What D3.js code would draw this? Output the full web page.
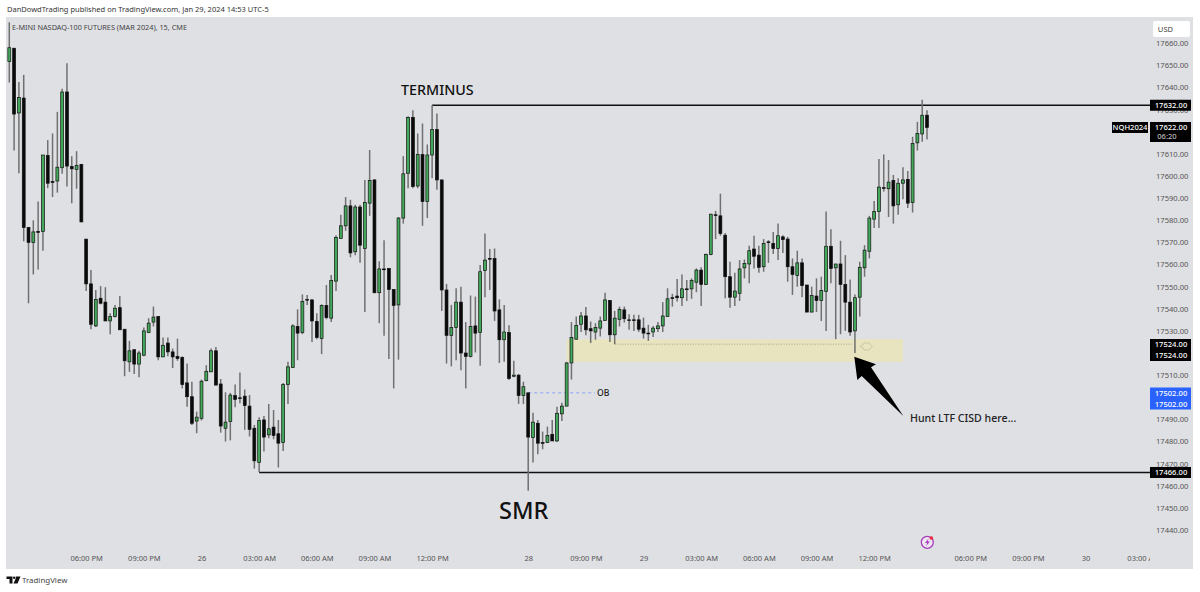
<!DOCTYPE html>
<html>
<head>
<meta charset="utf-8">
<script src="https://cdn.jsdelivr.net/npm/d3@7"></script>
<style>
  html, body { margin: 0; padding: 0; background: #fff; }
  text { font-family: "Noto Sans", sans-serif; }
</style>
</head>
<body>
<div id="chart"></div>
<script>
// 15 min bars, one value per bar
const opens = [
  17651.75,17657.75,17628.5,17635.25,17576.75,17570,17575,17575,17609.25,17597.5,17597.75,17603.75,
  17638,17604.25,17603,17605.25,17571.5,17551.25,17532.25,17544.75,17543,17534.5,17536.5,17540.5,
  17530.75,17516,17521.5,17515,17519,17529.25,17534,17536.5,17518.25,17524.5,17520.5,17518.5,
  17518,17506.5,17500.25,17489.25,17490.5,17507.5,17511.5,17521,17506,17486,17489,17500.75,
  17499.75,17500.5,17496,17486,17470.5,17489.75,17483,17486.5,17483.5,17479.5,17505.75,17513.5,
  17532,17529.25,17544.25,17544,17534.25,17526.5,17541.5,17535.75,17552.5,17571.75,17577.5,17586.5,
  17565.75,17586,17567.25,17587.75,17598.25,17547.25,17558,17558.25,17548.75,17541.75,17581,17601.25,
  17626.5,17595.5,17609.75,17588.5,17609.5,17621,17598.25,17548.5,17528,17531.5,17543,17520,
  17518.5,17532.25,17529.25,17557.25,17562.75,17562.75,17539.5,17526,17529.25,17509.5,17510,17500.75,
  17502,17481.75,17488.25,17479.5,17479.5,17483.25,17480.25,17492.5,17496,17515.5,17526.25,17533,
  17536.75,17531,17529.5,17531.25,17534.75,17543.75,17528.25,17535.25,17539.5,17535,17535,17535,
  17531.25,17529,17529.5,17531,17532.25,17536.5,17545,17545.75,17545,17549,17549,17552,
  17557.5,17551,17564.5,17582.5,17582,17573.25,17554.5,17545.25,17547,17558.5,17560.25,17567,
  17564.25,17559,17570.25,17569.5,17567.25,17572.5,17571.5,17559,17555,17560.75,17550.75,17538.5,
  17545.75,17543.75,17547.75,17568.25,17558.5,17560.25,17551,17543,17530,17545.25,17558.5,17566,
  17580.5,17584,17594.75,17594.25,17598,17587,17596.75,17598.5,17588,17615,17619,17627.5
];
const highs = [
  17669.5,17658,17642.5,17645.75,17577,17580,17588.5,17609.5,17616.25,17619.25,17629,17639.5,
  17651,17609,17611.25,17605.5,17571.5,17557.5,17548.5,17550.25,17549.75,17538,17541.75,17545.75,
  17530.75,17525.5,17521.5,17521,17531.5,17535.75,17541,17536.5,17527,17527,17522,17526.5,
  17518.5,17515.25,17507,17493.5,17508,17514.5,17522,17522.75,17508.25,17502.25,17502,17505.75,
  17511.25,17503.5,17501,17487.5,17491,17491.5,17497,17494.25,17489.75,17506.5,17516,17533,
  17539.75,17546.5,17546.25,17544.25,17538,17542,17550.75,17555.25,17573.25,17582.5,17590.5,17589.25,
  17587,17587,17598.25,17611.75,17598.5,17561.5,17571,17558.25,17548.75,17581.5,17609,17627,
  17629.75,17619.25,17623.75,17614.25,17632,17628.25,17598.25,17551.25,17541.75,17549.25,17550,17534,
  17546,17545.5,17559.75,17574,17567,17567.25,17544.25,17541.75,17532.5,17516.5,17510.5,17507,
  17502,17493,17489.75,17484.5,17486.75,17489.75,17495.75,17497.5,17516,17534,17536.5,17538.5,
  17540.75,17534.25,17533.5,17536.5,17547.25,17544,17539,17541,17541,17537.5,17537.25,17537.25,
  17536,17532.75,17532.25,17534,17543,17549.25,17546.75,17553.5,17555.5,17553,17553.75,17558.25,
  17558.75,17565,17583,17584.25,17592,17574.25,17561.25,17556.25,17562,17562.25,17568.5,17573,
  17568.5,17571.5,17571,17574.75,17578.5,17573.25,17572.5,17562.75,17566.25,17562.75,17550.75,17550,
  17553.75,17554.5,17584,17576,17560.25,17570.75,17564.25,17553.25,17546.5,17561.25,17568.75,17582,
  17588.75,17607.75,17609.75,17607.25,17600.5,17599,17604,17602.25,17617.75,17624.5,17634.5,17629.75
];
const lows = [
  17642.25,17611.5,17601.25,17570.5,17542.5,17555.5,17557.75,17566.25,17594.5,17590.5,17592.5,17601,
  17595.25,17587.75,17594.25,17579.25,17548,17530.75,17531.75,17542,17534.5,17528.5,17536,17530.5,
  17509.5,17511.5,17510.5,17509,17518.5,17529,17532,17516.75,17518.25,17518.5,17513.25,17516.5,
  17504,17495.75,17487.5,17483.75,17489.5,17507.25,17511.5,17505.5,17484,17480,17480.5,17495.5,
  17497.25,17485.25,17482.25,17467.75,17466.25,17475.5,17481.5,17481,17468.25,17475.75,17497,17513.25,
  17516.75,17528.5,17541.75,17525,17526.25,17519.5,17535.25,17534,17548,17571.75,17575.25,17563.25,
  17564.25,17560.75,17538.5,17582,17547,17533.5,17527.75,17517.25,17504,17517,17578.5,17594.5,
  17594.5,17594.5,17577.5,17581,17599,17593.75,17539,17515.25,17514,17516.75,17512.25,17504,
  17518,17520.25,17514.25,17545.25,17548.5,17534.5,17515.5,17516,17507.75,17509,17497,17497,
  17457.75,17470.5,17474.25,17476.5,17479.5,17480.25,17479.75,17489.25,17496,17508,17526,17529.5,
  17528,17524.5,17526,17527.5,17534.75,17525,17524,17532,17533.75,17530.5,17530,17529.5,
  17526.5,17525.5,17527.25,17529.5,17529.5,17536.25,17541,17543.25,17541.25,17543.5,17544.5,17547.5,
  17541.25,17550.75,17564.25,17571.5,17573,17544.75,17540.5,17541.25,17543.5,17553.75,17551.5,17558.25,
  17556.25,17556.75,17560.75,17564.75,17562,17565.25,17552.25,17546.25,17550,17545.25,17538.5,17538.5,
  17538.5,17534.5,17530,17551.5,17526.25,17528.5,17530,17527.75,17520,17536.5,17554.5,17562.75,
  17576.5,17576.5,17593,17581.5,17578.5,17582.5,17589.5,17585.5,17583.5,17611.5,17615.5,17616.5
];
const closes = [
  17658,17628,17635.5,17576.75,17570,17574.75,17574.5,17609.5,17596.75,17597.25,17604,17638,
  17604.5,17603.25,17604.75,17579.25,17551.25,17533,17544.25,17542.5,17534.5,17536.5,17540.25,17530.5,
  17516.5,17521,17515,17520,17530,17533.5,17536.25,17518.25,17523.5,17520.5,17518.25,17517.5,
  17505.75,17500.25,17488.25,17491,17507.25,17511.75,17521,17505.5,17487,17488.75,17501,17499,
  17499.5,17496.25,17485.5,17471.25,17489.5,17482,17485.75,17482.75,17479.25,17505.75,17513.75,17532.25,
  17529,17543.25,17544,17534.5,17527,17541.5,17536,17552.75,17572.25,17577.5,17586.5,17565.25,
  17586,17568.75,17588,17598,17547.25,17558,17557.75,17548.75,17541.5,17581,17601,17626.5,
  17595.25,17609.75,17588.5,17609.5,17621,17598.25,17548.5,17528,17531.5,17543,17520,17518.5,
  17532,17529,17556.75,17562,17562.5,17539,17526,17529.5,17508.5,17510,17500.75,17504.75,
  17482,17488.75,17479.25,17479.25,17482.75,17480.25,17492.75,17496,17515.5,17527,17532.5,17536.75,
  17530.5,17530,17531.5,17534.5,17544,17528.25,17535.75,17539.75,17535.5,17534.75,17534.75,17530.75,
  17529,17528.75,17531.25,17532.25,17536.75,17544.5,17544.75,17545,17549,17548.75,17552.75,17557.5,
  17551,17564.5,17582.75,17582.25,17574,17554.5,17545.25,17548,17558,17560.5,17566.25,17563.75,
  17558.75,17569.5,17570,17567.25,17573,17571.25,17559,17555.5,17560.75,17550.5,17538.5,17546,
  17543.75,17548.25,17568.25,17558.25,17560.25,17551,17543,17529.5,17545,17558.75,17566.5,17581,
  17584,17595,17594.5,17597.25,17586.5,17596.75,17598.25,17587.75,17614.75,17619.25,17627.5,17622
];

// 17620, 17520 and 17500 sit completely behind the price boxes
const priceTicks = [17660,17650,17640,17630,17610,17600,17590,17580,17570,17560,17550,17540,17530,17510,17490,17480,17470,17460,17450,17440];
// bar number -> label on the time axis
const timeBars = [16,28,40,52,64,76,88,108,120,132,144,156,168,180,200,212,224,236];
const timeLabels = ["06:00 PM","09:00 PM","26","03:00 AM","06:00 AM","09:00 AM","12:00 PM","28","09:00 PM","29","03:00 AM","06:00 AM","09:00 AM","12:00 PM","06:00 PM","09:00 PM","30","03:00 AM"];

// drawn levels and zones
const terminusLevel = {bar: 88, price: 17632};
const smrLevel = {bar: 52, price: 17466};
const zoneTop = 17526.25, zoneBottom = 17516, zoneLevel = 17524;
const obLevel = 17502;

const width = 1200, height = 592;
const panel = {left: 6, right: 1193, top: 17, bottom: 569};
const axisX = 1150;

const svg = d3.select("#chart").append("svg")
  .attr("width", width)
  .attr("height", height)
  .style("display", "block");

const x = d3.scaleLinear().domain([0, 191]).range([9.3, 927]);
const y = d3.scaleLinear().domain([17660, 17440]).range([43.3, 530]);

//panel background
svg.append("rect")
  .attr("x", panel.left).attr("y", panel.top)
  .attr("width", panel.right - panel.left).attr("height", panel.bottom - panel.top)
  .attr("fill", "#dfe0e4");

//header
svg.append("text").attr("x", 7).attr("y", 12)
  .attr("font-size", 7.5).attr("fill", "#333")
  .text("DanDowdTrading published on TradingView.com, Jan 29, 2024 14:53 UTC-5");
svg.append("text").attr("x", 12).attr("y", 30)
  .attr("font-size", 7.3).attr("fill", "#444")
  .text("E-MINI NASDAQ-100 FUTURES (MAR 2024), 15, CME");

//zone
svg.append("rect")
  .attr("x", x(116)).attr("y", y(zoneTop))
  .attr("width", 903 - x(116)).attr("height", y(zoneBottom) - y(zoneTop))
  .attr("fill", "#e8e4c0");
svg.append("line")
  .attr("x1", x(126)).attr("x2", 852)
  .attr("y1", y(zoneLevel)).attr("y2", y(zoneLevel))
  .attr("stroke", "#77776a").attr("stroke-width", 0.6).attr("stroke-dasharray", "1 1.6");

//little marker at end of the zone
svg.append("path")
  .attr("d", "M860 346.5 L863 345 L864 343 L869 343 L871 345.5 L872.5 346.5 L871 348 L869 350 L864 350 L863 348 Z")
  .attr("fill", "none").attr("stroke", "#c4c09e").attr("stroke-width", 0.8);

//OB line
svg.append("line")
  .attr("x1", x(108)).attr("x2", 595)
  .attr("y1", y(obLevel)).attr("y2", y(obLevel))
  .attr("stroke", "#7f9dfa").attr("stroke-width", 0.9).attr("stroke-dasharray", "3 3");
svg.append("text").attr("x", 597).attr("y", 396)
  .attr("font-size", 8.6).attr("font-weight", 500).attr("fill", "#222").text("OB");

//level lines
svg.append("line")
  .attr("x1", x(terminusLevel.bar)).attr("x2", axisX)
  .attr("y1", y(terminusLevel.price)).attr("y2", y(terminusLevel.price))
  .attr("stroke", "#111").attr("stroke-width", 1.3);
svg.append("line")
  .attr("x1", x(smrLevel.bar)).attr("x2", axisX)
  .attr("y1", y(smrLevel.price)).attr("y2", y(smrLevel.price))
  .attr("stroke", "#111").attr("stroke-width", 1.3);

//candles
const bars = d3.range(opens.length).map(i => ({
  i: i, o: opens[i], h: highs[i], l: lows[i], c: closes[i]
}));

svg.append("g").selectAll("line")
  .data(bars)
  .join("line")
  .attr("x1", d => x(d.i)).attr("x2", d => x(d.i))
  .attr("y1", d => y(d.h)).attr("y2", d => y(d.l))
  .attr("stroke", "#707070")
  .attr("stroke-width", 1.5);

svg.append("g").selectAll("rect")
  .data(bars)
  .join("rect")
  .attr("x", d => x(d.i) - 1.45)
  .attr("width", 2.9)
  .attr("y", d => y(Math.max(d.o, d.c)))
  .attr("height", d => Math.max(0.8, Math.abs(y(d.o) - y(d.c))))
  .attr("fill", d => d.c > d.o ? "#43a85a" : "#0a0a0a")
  .attr("stroke", "#111")
  .attr("stroke-width", 0.7);

//price axis
const yAxis = d3.axisRight(y).tickValues(priceTicks).tickFormat(d3.format(".2f")).tickSize(0).tickPadding(0);
svg.append("g")
  .attr("transform", "translate(1156,0)")
  .call(yAxis)
  .call(g => g.select(".domain").remove())
  .call(g => g.selectAll("text").attr("font-size", 7.6).attr("font-family", "Noto Sans").attr("fill", "#555"));

//time axis, clipped at the price scale
svg.append("clipPath").attr("id", "timeClip")
  .append("rect").attr("x", panel.left).attr("y", 545).attr("width", axisX - panel.left).attr("height", 24);
const xAxis = d3.axisBottom(x).tickValues(timeBars)
  .tickFormat(d => timeLabels[timeBars.indexOf(d)]).tickSize(0).tickPadding(0);
svg.append("g")
  .attr("clip-path", "url(#timeClip)")
  .append("g")
  .attr("transform", "translate(0,556)")
  .call(xAxis)
  .call(g => g.select(".domain").remove())
  .call(g => g.selectAll("text").attr("font-size", 7.5).attr("font-family", "Noto Sans").attr("fill", "#555"));

//USD box
svg.append("rect").attr("x", 1153).attr("y", 21).attr("width", 37).attr("height", 16).attr("rx", 2).attr("fill", "#fff");
svg.append("text").attr("x", 1165.5).attr("y", 32).attr("text-anchor", "middle")
  .attr("font-size", 7.6).attr("fill", "#444").text("USD");

//price labels on the scale
function priceBox(top, bottom, fill) {
  svg.append("rect").attr("x", axisX).attr("y", top)
    .attr("width", 41).attr("height", bottom - top).attr("fill", fill);
}
function boxText(txt, cx, cy, color) {
  svg.append("text").attr("x", cx).attr("y", cy + 2.7).attr("text-anchor", "middle")
    .attr("font-size", 7.6).attr("font-weight", 500).attr("fill", color).text(txt);
}
const boxFmt = d3.format(".2f");
priceBox(y(17632) - 5.5, y(17632) + 5.5, "#000");
boxText(boxFmt(17632), 1171, y(17632), "#fff");

svg.append("rect").attr("x", 1112).attr("y", 122).attr("width", 36).attr("height", 11).attr("fill", "#000");
boxText("NQH2024", 1130, 127.5, "#fff");
priceBox(122, 142, "#000");
boxText(boxFmt(closes[closes.length - 1]), 1171, 127, "#fff");
boxText("06:20", 1167, 136.5, "#bbb");

priceBox(339, 361, "#000");
boxText(boxFmt(zoneLevel), 1171, 344.5, "#fff");
boxText(boxFmt(zoneLevel), 1171, 355.5, "#fff");

priceBox(387.5, 409.5, "#2962ff");
boxText(boxFmt(obLevel), 1171, 393, "#fff");
boxText(boxFmt(obLevel), 1171, 404, "#fff");

priceBox(y(17466) - 5.5, y(17466) + 5.5, "#000");
boxText(boxFmt(17466), 1171, y(17466), "#fff");

//annotations
svg.append("text").attr("x", 401).attr("y", 94.5)
  .attr("font-size", 14.3).attr("font-weight", 500).attr("fill", "#111").text("TERMINUS");
svg.append("text").attr("x", 499).attr("y", 519)
  .attr("font-size", 23.5).attr("font-weight", 500).attr("fill", "#111").text("SMR");
svg.append("text").attr("x", 910).attr("y", 421.5)
  .attr("font-size", 10.6).attr("font-weight", 500).attr("fill", "#222").text("Hunt LTF CISD here...");

//big arrow
svg.append("path")
  .attr("d", "M854.3 356.7 L876 364.3 L871 367.3 L903.3 416 L861.7 376 L857.3 380 Z")
  .attr("fill", "#000");

//flash icon near the time axis
svg.append("circle").attr("cx", 927.3).attr("cy", 542.3).attr("r", 6)
  .attr("fill", "#efe6f1").attr("stroke", "#a93fc0").attr("stroke-width", 1.3);
svg.append("path").attr("d", "M928.5 538.5 L925 543 L927.2 543 L926 546.3 L930 541.5 L927.8 541.5 Z").attr("fill", "#a93fc0");
svg.append("circle").attr("cx", 931.3).attr("cy", 538).attr("r", 1.8).attr("fill", "#f0283c");

//footer logo
svg.append("path")
  .attr("d", "M6.5 576.5 H12.5 V583.5 H9.5 V579 H6.5 Z M16 576.5 H20.5 L17.5 583.5 H13.5 L15.7 578.5 Z")
  .attr("fill", "#111");
svg.append("circle").attr("cx", 14.2).attr("cy", 577.8).attr("r", 1.2).attr("fill", "#111");
svg.append("text").attr("x", 22).attr("y", 583)
  .attr("font-size", 7.9).attr("fill", "#444").text("TradingView");
</script>
</body>
</html>
